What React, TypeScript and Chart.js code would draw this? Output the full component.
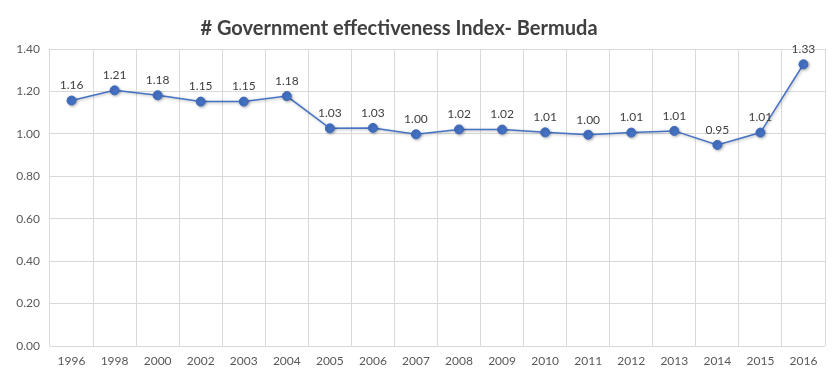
import React, { useEffect, useRef } from "react";
import { Chart, registerables } from "chart.js";

Chart.register(...registerables);

const TITLE = "# Government effectiveness Index- Bermuda";
const YEARS = ["1996","1998","2000","2002","2003","2004","2005","2006","2007","2008","2009","2010","2011","2012","2013","2014","2015","2016"];
const VALUES = [1.157, 1.205, 1.182, 1.152, 1.152, 1.178, 1.026, 1.028, 0.998, 1.021, 1.02, 1.007, 0.996, 1.006, 1.014, 0.948, 1.006, 1.328];
const Y_MIN = 0;
const Y_MAX = 1.4;
const Y_STEP = 0.2;

const FONT = "Lato, 'Liberation Sans', sans-serif";

const titlePlugin = {
  id: "customTitle",
  afterDraw(chart: any) {
    const ctx = chart.ctx;
    ctx.save();
    ctx.font = `bold 20px ${FONT}`;
    ctx.fillStyle = "#404040";
    ctx.textAlign = "center";
    ctx.textBaseline = "alphabetic";
    ctx.fillText(TITLE, chart.width / 2 - 20, 35);
    ctx.restore();
  },
};

const dataLabels = {
  id: "dataLabels",
  afterDatasetsDraw(chart: any) {
    const ctx = chart.ctx;
    const meta = chart.getDatasetMeta(0);
    ctx.save();
    ctx.font = `12px ${FONT}`;
    ctx.fillStyle = "#404040";
    ctx.textAlign = "center";
    ctx.textBaseline = "bottom";
    meta.data.forEach((pt: any, i: number) => {
      const v = chart.data.datasets[0].data[i] as number;
      ctx.fillText(v.toFixed(2), pt.x, pt.y - 9);
    });
    ctx.restore();
  },
};

const shadow = {
  id: "pointShadow",
  beforeDatasetDraw(chart: any) {
    const ctx = chart.ctx;
    ctx.save();
    ctx.shadowColor = "rgba(0,0,0,0.3)";
    ctx.shadowBlur = 3;
    ctx.shadowOffsetX = 1;
    ctx.shadowOffsetY = 1;
  },
  afterDatasetDraw(chart: any) {
    chart.ctx.restore();
  },
};

export default function App() {
  const ref = useRef<HTMLCanvasElement | null>(null);
  useEffect(() => {
    if (!ref.current) return;
    const chart = new Chart(ref.current, {
      type: "line",
      data: {
        labels: YEARS,
        datasets: [
          {
            data: VALUES,
            borderColor: "#4472C4",
            backgroundColor: "#4472C4",
            borderWidth: 1.5,
            pointRadius: 4.5,
            pointHoverRadius: 4.5,
            pointBackgroundColor: "#4472C4",
            pointBorderColor: "#3f6bbd",
            pointBorderWidth: 1,
            tension: 0,
          },
        ],
      },
      options: {
        animation: false,
        responsive: false,
        maintainAspectRatio: false,
        layout: { padding: { left: 0, right: 13, top: 49, bottom: 0 } },
        plugins: {
          legend: { display: false },
          tooltip: { enabled: false },
          title: { display: false },
        },
        scales: {
          x: {
            type: "category",
            offset: true,
            grid: { offset: true, color: "#d9d9d9", drawTicks: false },
            border: { display: false },
            ticks: {
              color: "#595959",
              font: { family: FONT, size: 12 },
              padding: 8,
              maxRotation: 0,
              autoSkip: false,
            },
            afterFit(scale: any) {
              scale.height = 40;
            },
          },
          y: {
            min: Y_MIN,
            max: Y_MAX,
            grid: { color: "#d9d9d9", drawTicks: false },
            border: { display: false },
            ticks: {
              stepSize: Y_STEP,
              color: "#595959",
              font: { family: FONT, size: 12 },
              padding: 10,
              callback: (v: any) => Number(v).toFixed(2),
            },
            afterFit(scale: any) {
              scale.width = 50;
            },
          },
        },
      },
      plugins: [shadow, dataLabels, titlePlugin],
    });
    return () => chart.destroy();
  }, []);
  return (
    <div style={{ position: "absolute", left: 0, top: 0, width: 838, height: 386, background: "#fff" }}>
      <canvas ref={ref} width={838} height={386} style={{ width: 838, height: 386 }} />
    </div>
  );
}
